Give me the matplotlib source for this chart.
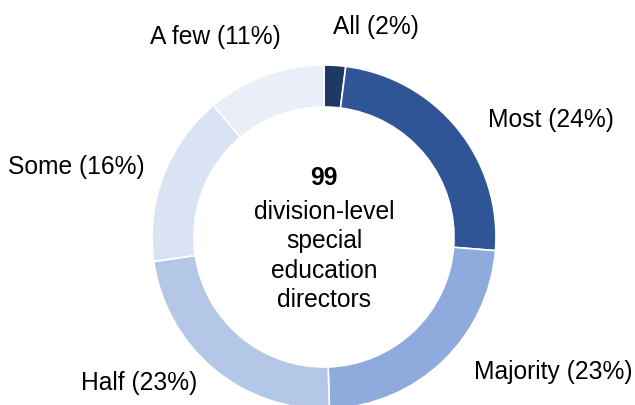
import matplotlib
matplotlib.use("Agg")
import matplotlib.pyplot as plt

plt.rcParams['font.family'] = ['Liberation Sans', 'DejaVu Sans']

# number of directors (n = 99)
categories = ["All", "Most", "Majority", "Half", "Some", "A few"]
counts = [2, 24, 23, 23, 16, 11]
pct_labels = ["2%", "24%", "23%", "23%", "16%", "11%"]
colors = ["#203864", "#2F5597", "#8FAADC", "#B4C7E7", "#DAE3F3", "#E9EEF8"]

# label anchor points (pixel space, y up)
label_xy = [(376, 378), (551, 285), (553, 33), (139, 22), (76, 238), (215, 368)]

fig = plt.figure(figsize=(6.35, 4.05), dpi=100)
ax = fig.add_axes([0, 0, 1, 1])

cx, cy, R = 324, 168, 172
ax.pie(counts, colors=colors, startangle=90, counterclock=False,
       radius=R, center=(cx, cy),
       wedgeprops=dict(width=42, edgecolor="white", linewidth=1.2))

for name, p, (x, y) in zip(categories, pct_labels, label_xy):
    ax.text(x, y, f"{name} ({p})", ha="center", va="center", fontsize=17.7, color="#000000")

ax.text(cx, 227, "99", ha="center", va="center", fontsize=17.7, fontweight="bold")
ax.text(cx, 149, "division-level\nspecial\neducation\ndirectors",
        ha="center", va="center", fontsize=17.7, linespacing=1.27)

ax.set_xlim(0, 635)
ax.set_ylim(0, 405)
ax.set_aspect("auto")
ax.axis("off")

fig.savefig("out.png", dpi=100)
